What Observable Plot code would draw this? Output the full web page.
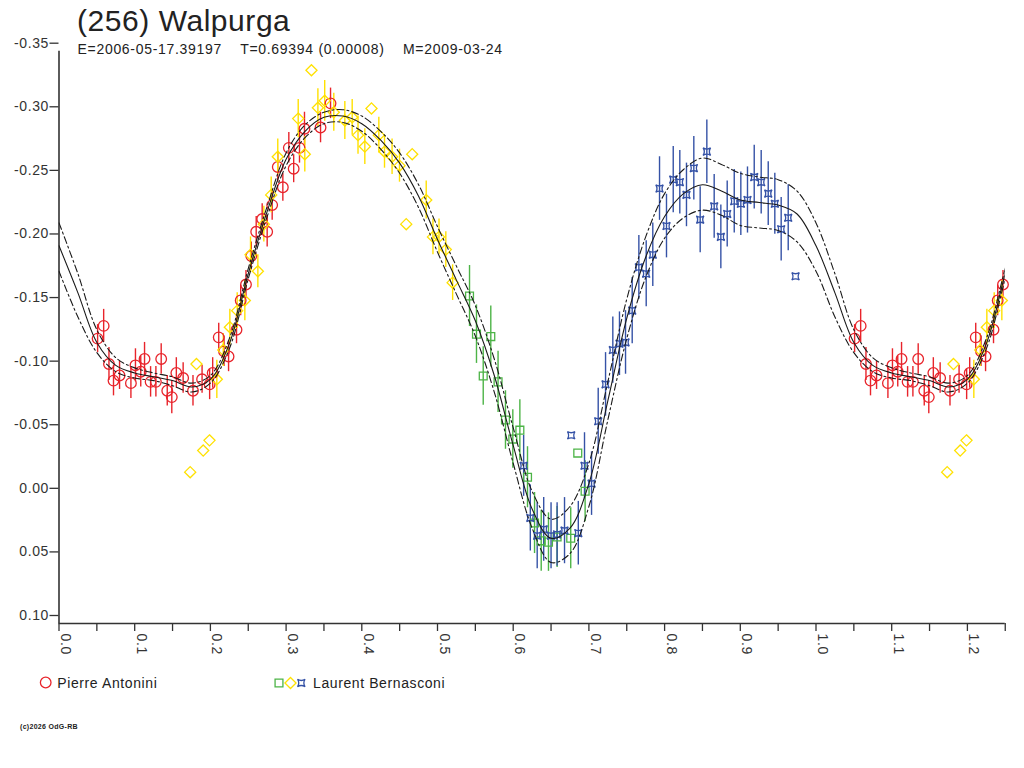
<!DOCTYPE html>
<html>
<head>
<meta charset="utf-8">
<script src="https://cdn.jsdelivr.net/npm/d3@7"></script>
<script src="https://cdn.jsdelivr.net/npm/@observablehq/plot@0.6"></script>
<style>
  html, body { margin: 0; padding: 0; background: #fff; }
  #wrap { position: relative; width: 1024px; height: 768px; overflow: hidden; font-family: "Liberation Sans", Arial, sans-serif; }
  #wrap > svg { position: absolute; left: 0; top: 0; }
  #overlay { pointer-events: none; }
</style>
</head>
<body>
<div id="wrap"></div>
<script>
// ---------- Texts ----------
const titleText = "(256) Walpurga";
const subtitleText = "E=2006-05-17.39197    T=0.69394 (0.00008)    M=2009-03-24";
const legendNames = ["Pierre Antonini", "Laurent Bernasconi"];
const copyrightText = "(c)2026 OdG-RB";

// ---------- Axis ticks ----------
const xTickValues = [0,0.05,0.1,0.15,0.2,0.25,0.3,0.35,0.4,0.45,0.5,0.55,0.6,0.65,0.7,0.75,0.8,0.85,0.9,0.95,1.0,1.05,1.1,1.15,1.2,1.25];
const xLabelValues = [0,0.1,0.2,0.3,0.4,0.5,0.6,0.7,0.8,0.9,1.0,1.1,1.2];
const xTickLabels = ["0.0","0.1","0.2","0.3","0.4","0.5","0.6","0.7","0.8","0.9","1.0","1.1","1.2"];
const yTickValues = [-0.35,-0.30,-0.25,-0.20,-0.15,-0.10,-0.05,0.00,0.05,0.10];
const yTickLabels = ["-0.35","-0.30","-0.25","-0.20","-0.15","-0.10","-0.05","0.00","0.05","0.10"];

// ---------- Pierre Antonini (red circles) ----------
const antPhase = [0.051,0.059,0.066,0.072,0.080,0.095,0.101,0.108,0.113,0.121,0.128,0.135,0.143,0.149,0.155,0.164,0.177,0.189,0.199,0.203,0.211,0.218,0.224,0.2345,0.240,0.247,0.254,0.2605,0.2684,0.275,0.2816,0.289,0.2957,0.3036,0.310,0.3177,0.3243,0.3455,0.3587];
const antMag   = [-0.124,-0.134,-0.104,-0.091,-0.095,-0.089,-0.103,-0.098,-0.108,-0.090,-0.090,-0.108,-0.083,-0.078,-0.097,-0.093,-0.083,-0.092,-0.088,-0.097,-0.125,-0.114,-0.110,-0.131,-0.154,-0.1665,-0.189,-0.208,-0.218,-0.208,-0.229,-0.259,-0.243,-0.274,-0.2576,-0.274,-0.289,-0.290,-0.309];
const antErr   = [0.011,0.013,0.013,0.012,0.011,0.012,0.013,0.012,0.013,0.012,0.012,0.012,0.012,0.013,0.012,0.012,0.012,0.011,0.012,0.012,0.011,0.012,0.012,0.011,0.012,0.011,0.011,0.012,0.012,0.012,0.012,0.012,0.011,0.012,0.011,0.012,0.013,0.012,0.012];

// ---------- Laurent Bernasconi, session A (yellow diamonds) ----------
const berYPhase = [0.1733,0.1816,0.1905,0.1988,0.2085,0.217,0.2257,0.2354,0.2455,0.253,0.2627,0.2706,0.2803,0.289,0.316,0.3247,0.3335,0.342,0.351,0.363,0.3776,0.3873,0.395,0.404,0.4128,0.4225,0.430,0.440,0.4498,0.4587,0.4666,0.4851,0.494,0.502,0.511,0.520];
const berYMag   = [-0.019,-0.104,-0.036,-0.044,-0.092,-0.115,-0.133,-0.146,-0.154,-0.190,-0.177,-0.214,-0.237,-0.267,-0.297,-0.269,-0.335,-0.3055,-0.311,-0.302,-0.2955,-0.298,-0.284,-0.275,-0.305,-0.284,-0.271,-0.267,-0.260,-0.214,-0.269,-0.233,-0.204,-0.204,-0.194,-0.168];
const berYErr   = [0,0,0,0,0.015,0.013,0.014,0.014,0.016,0.014,0.013,0.014,0.014,0.014,0.015,0.014,0,0.015,0.016,0.015,0.015,0.014,0.015,0.014,0,0.014,0.013,0.014,0.013,0,0,0.015,0.014,0.014,0.014,0.014];

// ---------- Laurent Bernasconi, session B (green squares) ----------
const berGPhase = [0.5423,0.5515,0.5604,0.5704,0.580,0.5898,0.5995,0.6088,0.6189,0.6282,0.637,0.6466,0.658,0.676,0.6853,0.695];
const berGMag   = [-0.1575,-0.1275,-0.0946,-0.1256,-0.090,-0.060,-0.045,-0.052,-0.015,0.021,0.035,0.036,0.032,0.033,-0.034,-0.004];
const berGErr   = [0.024,0.023,0.023,0.024,0.024,0.023,0.023,0.024,0.024,0.024,0.024,0.023,0.024,0.024,0,0.024];

// ---------- Laurent Bernasconi, session C (blue stars) ----------
const berBPhase = [0.6138,0.6226,0.6317,0.6403,0.650,0.658,0.6678,0.6766,0.686,0.6942,0.7035,0.7123,0.722,0.7316,0.7404,0.7484,0.7572,0.766,0.7757,0.7844,0.7933,0.8025,0.8114,0.8201,0.8289,0.8386,0.847,0.8558,0.8655,0.8743,0.8827,0.892,0.9007,0.9095,0.9184,0.9276,0.9369,0.9456,0.954,0.9633,0.973];
const berBMag   = [-0.024,0.017,0.031,0.026,0.031,0.030,0.027,-0.048,0.029,-0.024,-0.010,-0.059,-0.088,-0.115,-0.120,-0.121,-0.146,-0.180,-0.175,-0.190,-0.242,-0.2125,-0.249,-0.247,-0.237,-0.258,-0.2175,-0.271,-0.228,-0.204,-0.222,-0.232,-0.230,-0.233,-0.251,-0.247,-0.238,-0.230,-0.210,-0.219,-0.173];
const berBErr   = [0.024,0.026,0.026,0.025,0.026,0.025,0.026,0,0.025,0.026,0.025,0.026,0.025,0.026,0.025,0.025,0.026,0.025,0.026,0.025,0.025,0.025,0.026,0.025,0.025,0.025,0.026,0.025,0.025,0.025,0.026,0.025,0.025,0.026,0.025,0.025,0.025,0.024,0.025,0.026,0];

// ---------- Fitted lightcurve (solid) and its envelope (dash-dot) ----------
const fitPhase = [0,0.025,0.05,0.075,0.1,0.125,0.15,0.175,0.2,0.225,0.25,0.275,0.3,0.325,0.35,0.375,0.4,0.425,0.45,0.475,0.5,0.525,0.55,0.575,0.6,0.625,0.65,0.675,0.7,0.725,0.75,0.775,0.8,0.825,0.85,0.875,0.9,0.925,0.95,0.975,1.0];
const fitMid   = [-0.197,-0.160,-0.121,-0.103,-0.097,-0.094,-0.091,-0.086,-0.092,-0.120,-0.175,-0.224,-0.265,-0.287,-0.298,-0.299,-0.293,-0.280,-0.262,-0.236,-0.202,-0.170,-0.138,-0.095,-0.040,0.010,0.033,0.025,-0.010,-0.075,-0.140,-0.188,-0.220,-0.238,-0.245,-0.240,-0.233,-0.231,-0.229,-0.222,-0.197];
const fitUpper = [-0.215,-0.175,-0.131,-0.109,-0.101,-0.097,-0.094,-0.089,-0.095,-0.124,-0.179,-0.228,-0.270,-0.292,-0.302,-0.304,-0.299,-0.287,-0.270,-0.245,-0.212,-0.181,-0.150,-0.108,-0.054,-0.004,0.018,0.008,-0.026,-0.090,-0.155,-0.204,-0.238,-0.257,-0.266,-0.261,-0.254,-0.251,-0.249,-0.240,-0.215];
const fitLower = [-0.177,-0.141,-0.113,-0.098,-0.093,-0.091,-0.087,-0.082,-0.089,-0.116,-0.171,-0.220,-0.260,-0.282,-0.293,-0.294,-0.287,-0.273,-0.254,-0.227,-0.192,-0.159,-0.126,-0.082,-0.026,0.025,0.052,0.045,0.008,-0.060,-0.124,-0.172,-0.203,-0.219,-0.225,-0.221,-0.213,-0.211,-0.209,-0.200,-0.177];

// ---------- Colours ----------
const RED = "#e8242b", YELLOW = "#ffe100", GREEN = "#4db447", BLUE = "#3552a6", INK = "#333333";

const PHASE_MAX = 1.25;

// Build point tables (phase repeated one cycle further where it still lies inside the axis)
function points(phase, mag, err) {
  const rows = [];
  for (const shift of [0, 1]) {
    phase.forEach((p, i) => {
      const x = p + shift;
      if (x <= PHASE_MAX + 1e-9) rows.push({x, y: mag[i], e: err[i]});
    });
  }
  return rows;
}
const antRows = points(antPhase, antMag, antErr);
const yelRows = points(berYPhase, berYMag, berYErr);
const grnRows = points(berGPhase, berGMag, berGErr);
const bluRows = points(berBPhase, berBMag, berBErr);

const fitRows = [];
for (const shift of [0, 1]) {
  fitPhase.forEach((p, i) => {
    const x = p + shift;
    if (shift === 1 && p === 0) return;
    if (x <= PHASE_MAX + 0.03) fitRows.push({x, mid: fitMid[i], up: fitUpper[i], lo: fitLower[i]});
  });
}

// Custom concave four-point star (the blue marker)
const starSymbol = {
  draw(ctx, size) {
    const s = Math.sqrt(size) * 0.46;
    const k = s * 0.35;
    ctx.moveTo(-s, -s);
    ctx.quadraticCurveTo(0, -k, s, -s);
    ctx.quadraticCurveTo(k, 0, s, s);
    ctx.quadraticCurveTo(0, k, -s, s);
    ctx.quadraticCurveTo(-k, 0, -s, -s);
    ctx.closePath();
  }
};

function errBars(rows, color) {
  return Plot.ruleX(rows.filter(d => d.e > 0), {
    x: "x", y1: d => d.y - d.e, y2: d => d.y + d.e, stroke: color, strokeWidth: 1.4
  });
}

const xLabelOf = new Map(xLabelValues.map((v, i) => [v, xTickLabels[i]]));
const yLabelOf = new Map(yTickValues.map((v, i) => [v, yTickLabels[i]]));

const dashDot = "7,3,2,3";

const chart = Plot.plot({
  width: 1024,
  height: 662,
  marginLeft: 58.5,
  marginRight: 19.25,
  marginTop: 50.7,
  marginBottom: 39,
  x: {domain: [0, PHASE_MAX]},
  y: {domain: [-0.35, 0.10], reverse: true},
  style: {fontFamily: "'Liberation Sans', Arial, sans-serif", fontSize: "14px", color: INK, background: "white", letterSpacing: "0.6px", overflow: "visible"},
  marks: [
    // axes
    Plot.axisY({ticks: yTickValues, tickSize: 9, tickPadding: 1, dy: -8, tickFormat: d => yLabelOf.get(d) ?? "", fontSize: 14, stroke: INK, strokeWidth: 1.3, label: null}),
    Plot.axisX({ticks: xTickValues, tickSize: 8, tickFormat: () => "", stroke: INK, strokeWidth: 1.3, label: null}),
    Plot.axisX({ticks: xLabelValues, tickSize: 0, tickPadding: 10, tickRotate: 90, dx: 6.5, tickFormat: d => xLabelOf.get(d) ?? "", fontSize: 14, label: null}),
    Plot.ruleX([0], {y1: -0.35, y2: 0.10, stroke: INK, strokeWidth: 1.6}),
    Plot.ruleY([0.10], {x1: 0, x2: PHASE_MAX, stroke: INK, strokeWidth: 1.6}),
    // error bars
    errBars(antRows, RED),
    errBars(yelRows, YELLOW),
    errBars(grnRows, GREEN),
    errBars(bluRows, BLUE),
    // points
    Plot.dot(antRows, {x: "x", y: "y", symbol: "circle", r: 5.3, stroke: RED, strokeWidth: 1.3, fill: "none"}),
    Plot.dot(yelRows, {x: "x", y: "y", symbol: "diamond2", r: 5, stroke: YELLOW, strokeWidth: 1.3, fill: "none"}),
    Plot.dot(grnRows, {x: "x", y: "y", symbol: "square2", r: 5, stroke: GREEN, strokeWidth: 1.3, fill: "none"}),
    Plot.dot(bluRows, {x: "x", y: "y", symbol: starSymbol, r: 4.6, stroke: BLUE, strokeWidth: 1.3, fill: "none"}),
    // fitted curve + envelope
    Plot.line(fitRows, {x: "x", y: "up", stroke: "#1a1a1a", strokeWidth: 1.1, strokeDasharray: dashDot, curve: "catmull-rom", clip: true}),
    Plot.line(fitRows, {x: "x", y: "lo", stroke: "#1a1a1a", strokeWidth: 1.1, strokeDasharray: dashDot, curve: "catmull-rom", clip: true}),
    Plot.line(fitRows, {x: "x", y: "mid", stroke: "#1a1a1a", strokeWidth: 1.1, curve: "catmull-rom", clip: true})
  ]
});

const wrap = document.getElementById("wrap");
wrap.appendChild(chart);

// ---------- Overlay: title, subtitle, legend, copyright ----------
const ov = d3.select(wrap).append("svg")
  .attr("id", "overlay")
  .attr("width", 1024).attr("height", 768)
  .style("font-family", "'Liberation Sans', Arial, sans-serif");

ov.append("text").attr("x", 77).attr("y", 30.5)
  .attr("font-size", 30).attr("fill", "#222").attr("letter-spacing", "0.55px").text(titleText);
ov.append("text").attr("x", 77.5).attr("y", 54)
  .attr("font-size", 14).attr("fill", "#222").attr("letter-spacing", "0.7px")
  .style("white-space", "pre").attr("xml:space", "preserve").text(subtitleText);

// legend
const sym = (type, size) => d3.symbol().type(type).size(size)();
const lg = ov.append("g").attr("fill", "none").attr("stroke-width", 1.3);
lg.append("path").attr("transform", "translate(45.7,682.5)").attr("d", sym(d3.symbolCircle, Math.PI * 5.3 * 5.3)).attr("stroke", RED);
ov.append("text").attr("x", 57.3).attr("y", 687.8).attr("font-size", 14).attr("fill", "#222").attr("letter-spacing", "0.6px").text(legendNames[0]);
lg.append("path").attr("transform", "translate(279,683)").attr("d", sym(d3.symbolSquare2, Math.PI * 25)).attr("stroke", GREEN);
lg.append("path").attr("transform", "translate(290.5,683)").attr("d", sym(d3.symbolDiamond2, Math.PI * 25)).attr("stroke", YELLOW);
lg.append("path").attr("transform", "translate(301.3,683)").attr("d", sym(starSymbol, Math.PI * 4.6 * 4.6)).attr("stroke", BLUE);
ov.append("text").attr("x", 313).attr("y", 687.8).attr("font-size", 14).attr("fill", "#222").attr("letter-spacing", "0.6px").text(legendNames[1]);

ov.append("text").attr("x", 20).attr("y", 728.5).attr("font-size", 7).attr("font-weight", "bold")
  .attr("fill", "#222").attr("letter-spacing", "0.3px").text(copyrightText);
</script>
</body>
</html>
